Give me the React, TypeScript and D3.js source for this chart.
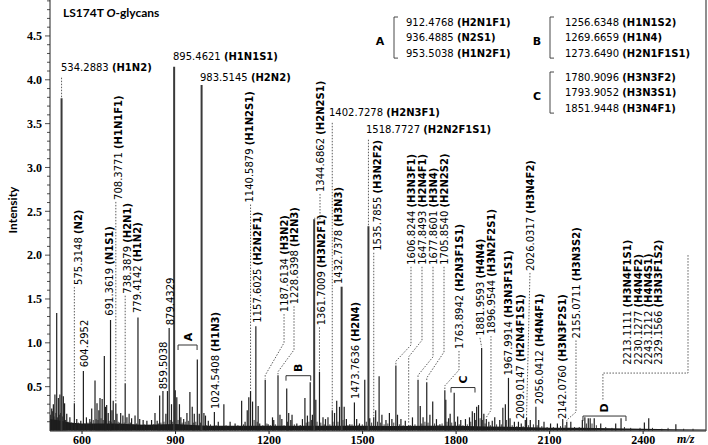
import React from "react";
import * as d3 from "d3";

// ---------- data (m/z, relative intensity) ----------
const X_TICKS = [600, 900, 1200, 1500, 1800, 2100, 2400];
const Y_TICKS = [0.5, 1.0, 1.5, 2.0, 2.5, 3.0, 3.5, 4.0, 4.5];

const PEAKS: [number, number][] = [
  [502.7, 0.25], [508, 0.3], [513, 0.41], [518.7, 1.34], [524, 0.37], [529, 0.41], [534.2883, 3.79], [540, 0.39],
  [544, 0.31], [551, 0.19], [561, 0.15], [575.3148, 0.31], [583, 0.13], [596, 0.11], [604.2952, 0.68], [614, 0.15],
  [625, 0.13], [631, 0.25], [641.6, 0.57], [648, 0.31], [654, 0.23], [657.6, 0.37], [664.5, 0.36], [671.5, 0.85],
  [675, 0.27], [679, 0.29], [684, 0.2], [691.3619, 1.26], [696, 0.23], [700, 0.34], [708.3771, 0.31], [712, 0.19],
  [724, 0.2], [731, 0.17], [738.3879, 0.54], [744, 0.15], [751, 0.19], [759, 0.14], [770, 0.17], [779.4142, 1.29],
  [785, 0.13], [796, 0.12], [808, 0.11], [823, 0.12], [834, 0.2], [841, 0.11], [849, 0.4], [859.5038, 0.45],
  [869, 0.19], [874, 0.45], [879.4329, 1.17], [887, 0.3], [895.4621, 4.15], [899, 0.46], [904, 0.38], [912.4768, 0.3],
  [917, 0.15], [926, 0.13], [936.4885, 0.2], [946, 0.44], [953.5038, 0.27], [960, 0.19], [969.8, 0.81], [976, 0.19],
  [983.5145, 3.94], [991, 0.2], [996, 0.17], [1005, 0.11], [1024.5408, 0.21], [1037, 0.1], [1055, 0.3], [1075, 0.1],
  [1091, 0.08], [1112, 0.34], [1123, 0.1], [1130, 0.23], [1135, 0.38], [1140.5879, 0.45], [1147, 0.33], [1157.6025, 1.19],
  [1165, 0.28], [1170, 0.08], [1187.6134, 0.58], [1197, 0.07], [1211, 0.15], [1215, 0.12], [1228.6398, 0.63], [1235, 0.18],
  [1241, 0.13], [1256.6348, 0.48], [1263, 0.2], [1269.6659, 0.12], [1273.649, 0.18], [1289, 0.08], [1300, 0.06], [1307, 0.13],
  [1315, 0.37], [1323, 0.17], [1332, 0.55], [1339, 0.18], [1344.6862, 2.41], [1350, 0.35], [1361.7009, 0.67], [1373, 0.15],
  [1381, 0.13], [1389, 0.15], [1402.7278, 0.23], [1410, 0.2], [1417, 0.34], [1426, 0.27], [1432.7378, 1.64], [1441, 0.27],
  [1448, 0.13], [1459, 0.07], [1473.7636, 0.32], [1481, 0.13], [1490, 0.08], [1507, 0.58], [1518.7727, 2.33], [1523, 0.14],
  [1535.7855, 0.15], [1542, 0.23], [1553, 0.62], [1562, 0.18], [1575, 0.12], [1586, 0.2], [1594, 0.13], [1606.8244, 0.74],
  [1612, 0.18], [1623, 0.13], [1637, 0.11], [1647.8493, 0.06], [1660, 0.15], [1677.8601, 0.58], [1685, 0.28], [1694, 0.15],
  [1705.854, 0.55], [1716, 0.18], [1725, 0.33], [1737, 0.13], [1748, 0.07], [1763.8942, 0.46], [1767, 0.35], [1776, 0.14],
  [1780.9096, 0.19], [1793.9052, 0.43], [1805, 0.16], [1815, 0.12], [1830, 0.13], [1843, 0.15], [1851.9448, 0.22], [1859, 0.2],
  [1866, 0.27], [1872, 0.29], [1881.9593, 0.94], [1889, 0.19], [1896.9544, 0.13], [1905, 0.1], [1916, 0.11], [1924, 0.15],
  [1940, 0.12], [1950, 0.26], [1958, 0.3], [1967.9914, 0.6], [1973, 0.14], [1987, 0.1], [2000, 0.1], [2009.0147, 0.08],
  [2022, 0.12], [2026.0317, 0.15], [2038, 0.12], [2056.0412, 0.27], [2065, 0.12], [2082, 0.1], [2103, 0.08], [2125, 0.08],
  [2142.076, 0.13], [2155.0711, 0.1], [2168, 0.1], [2205, 0.12], [2213.1111, 0.15], [2224, 0.14], [2230.1277, 0.14],
  [2243.1212, 0.14], [2264, 0.08], [2312, 0.08], [2329.1566, 0.14], [2404, 0.09], [2418, 0.14], [2505, 0.07],
];

const GRASS: [number, number][] = [
  [499, 0.18], [505, 0.22], [510, 0.16], [516, 0.2], [521, 0.15], [527, 0.18], [531, 0.2], [537, 0.16], [547, 0.12],
  [555, 0.1], [566, 0.09], [570, 0.08], [579, 0.07], [588, 0.09], [592, 0.06], [600, 0.07], [609, 0.08], [619, 0.09],
  [628, 0.1], [636, 0.12], [645, 0.13], [651, 0.12], [661, 0.14], [668, 0.12], [687, 0.11], [693, 0.1], [704, 0.12],
  [716, 0.1], [720, 0.09], [728, 0.08], [735, 0.09], [741, 0.07], [748, 0.08], [755, 0.09], [764, 0.07], [775, 0.08],
  [790, 0.06], [801, 0.07], [815, 0.06], [829, 0.07], [845, 0.08], [853, 0.09], [863, 0.1], [883, 0.12], [891, 0.1],
  [908, 0.12], [921, 0.09], [931, 0.1], [941, 0.11], [957, 0.09], [965, 0.1], [980, 0.09], [1000, 0.06], [1012, 0.07],
  [1019, 0.05], [1030, 0.06], [1045, 0.05], [1062, 0.06], [1082, 0.05], [1100, 0.06], [1118, 0.07], [1152, 0.12],
  [1162, 0.1], [1180, 0.06], [1193, 0.08], [1204, 0.06], [1220, 0.07], [1248, 0.06], [1259, 0.1], [1281, 0.07],
  [1295, 0.05], [1319, 0.09], [1328, 0.1], [1336, 0.12], [1354, 0.1], [1366, 0.09], [1377, 0.07], [1395, 0.07],
  [1405, 0.1], [1421, 0.1], [1437, 0.12], [1453, 0.06], [1466, 0.07], [1486, 0.06], [1499, 0.07], [1512, 0.1],
  [1529, 0.09], [1548, 0.1], [1558, 0.09], [1569, 0.07], [1581, 0.08], [1600, 0.09], [1618, 0.07], [1630, 0.06],
  [1653, 0.06], [1668, 0.07], [1690, 0.08], [1700, 0.1], [1710, 0.09], [1731, 0.08], [1742, 0.06], [1755, 0.08],
  [1771, 0.1], [1786, 0.09], [1798, 0.1], [1810, 0.07], [1822, 0.06], [1836, 0.07], [1847, 0.1], [1862, 0.12],
  [1877, 0.14], [1885, 0.12], [1893, 0.08], [1910, 0.06], [1930, 0.07], [1945, 0.07], [1962, 0.12], [1980, 0.06],
  [1995, 0.05], [2015, 0.05], [2032, 0.06], [2048, 0.07], [2060, 0.06], [2075, 0.05], [2092, 0.04], [2112, 0.04],
  [2135, 0.05], [2150, 0.06], [2180, 0.04], [2195, 0.04], [2218, 0.08], [2236, 0.08], [2250, 0.06], [2280, 0.04],
  [2300, 0.03], [2340, 0.04], [2360, 0.03], [2390, 0.03], [2430, 0.03], [2460, 0.02], [2480, 0.03], [2530, 0.02], [2560, 0.02],
];

const NOISE: [number, number][] = [
  [497.2, 0.13], [520, 0.12], [560, 0.09], [600, 0.08], [700, 0.08], [800, 0.065], [900, 0.075], [1000, 0.055],
  [1100, 0.055], [1200, 0.055], [1300, 0.055], [1400, 0.055], [1500, 0.055], [1600, 0.05], [1700, 0.055], [1800, 0.055],
  [1900, 0.045], [2000, 0.04], [2100, 0.03], [2200, 0.03], [2300, 0.025], [2400, 0.02], [2500, 0.015], [2601.7, 0.01],
];

// horizontal labels above the tallest peaks
const TOP_LABELS = [
  { mass: "534.2883", comp: "H1N2", at: [532.5, 4.1], dashTo: 4.04 },
  { mass: "895.4621", comp: "H1N1S1", at: [891.8, 4.226] },
  { mass: "983.5145", comp: "H2N2", at: [978.4, 3.99] },
  { mass: "1402.7278", comp: "H2N3F1", at: [1392.3, 3.59], dashTo: 3.52 },
  { mass: "1518.7727", comp: "H2N2F1S1", at: [1510.9, 3.39], dashTo: 3.32 },
];

// vertical labels: at = [m/z, intensity] of the label foot
type RL = { mass: string; comp: string; at: [number, number]; via?: [number, number][]; mode?: string };
const ROT_LABELS: RL[] = [
  { mass: "575.3148", comp: "N2", at: [587, 1.66] },
  { mass: "604.2952", comp: "", at: [606.3, 0.72] },
  { mass: "691.3619", comp: "N1S1", at: [686.5, 1.31] },
  { mass: "708.3771", comp: "H1N1F1", at: [715.3, 2.63] },
  { mass: "738.3879", comp: "H2N1", at: [744.2, 1.56] },
  { mass: "779.4142", comp: "H1N2", at: [776.3, 1.34] },
  { mass: "859.5038", comp: "", at: [859.7, 0.47] },
  { mass: "879.4329", comp: "", at: [882.2, 1.2] },
  { mass: "1024.5408", comp: "H1N3", at: [1026.5, 0.245] },
  { mass: "1140.5879", comp: "H1N2S1", at: [1135.6, 2.6] },
  { mass: "1157.6025", comp: "H2N2F1", at: [1161.3, 1.23] },
  { mass: "1187.6134", comp: "H3N2", at: [1248, 1.35], via: [[1248, 1.0], [1187.6134, 0.63]] },
  { mass: "1228.6398", comp: "H2N3", at: [1280, 1.44], via: [[1280, 0.92], [1228.6398, 0.67]] },
  { mass: "1344.6862", comp: "H2N2S1", at: [1363.4, 2.72], via: [[1363.4, 2.41]] },
  { mass: "1361.7009", comp: "H3N2F1", at: [1366.6, 1.2] },
  { mass: "1432.7378", comp: "H3N3", at: [1421, 1.67], mode: "direct" },
  { mass: "1473.7636", comp: "H2N4", at: [1475.6, 0.36] },
  { mass: "1535.7855", comp: "H3N2F2", at: [1546.2, 2.05] },
  { mass: "1606.8244", comp: "H3N3F1", at: [1655.3, 1.89], via: [[1655.3, 0.975], [1606.8244, 0.79]] },
  { mass: "1647.8493", comp: "H2N4F1", at: [1690.6, 1.89], via: [[1690.6, 1.03], [1647.8493, 0.84]] },
  { mass: "1677.8601", comp: "H3N4", at: [1725.9, 1.89], via: [[1725.9, 0.84], [1677.8601, 0.63]] },
  { mass: "1705.8540", comp: "H2N2S2", at: [1761.2, 1.89], via: [[1761.2, 0.895], [1705.854, 0.6]] },
  { mass: "1763.8942", comp: "H2N3F1S1", at: [1809.3, 0.93], via: [[1809.3, 0.69], [1763.8942, 0.51]] },
  { mass: "1881.9593", comp: "H4N4", at: [1876.6, 1.08], mode: "direct" },
  { mass: "1896.9544", comp: "H3N2F2S1", at: [1911.9, 1.1], via: [[1911.9, 0.23], [1896.9544, 0.15]] },
  { mass: "1967.9914", comp: "H3N3F1S1", at: [1966.5, 0.63] },
  { mass: "2009.0147", comp: "H2N4F1S1", at: [2005, 0.13] },
  { mass: "2026.0317", comp: "H3N4F2", at: [2037, 1.82], mode: "direct" },
  { mass: "2056.0412", comp: "H4N4F1", at: [2066, 0.3] },
  { mass: "2142.0760", comp: "H3N3F2S1", at: [2139.7, 0.13] },
  { mass: "2155.0711", comp: "H3N3S2", at: [2184.6, 1.05], via: [[2184.6, 0.21], [2155.0711, 0.12]] },
  { mass: "2213.1111", comp: "H3N4F1S1", at: [2348.2, 0.75], mode: "none" },
  { mass: "2230.1277", comp: "H4N4F2", at: [2383.5, 0.75], mode: "none" },
  { mass: "2243.1212", comp: "H4N4S1", at: [2415.6, 0.75], mode: "none" },
  { mass: "2329.1566", comp: "H3N3F1S2", at: [2447.7, 0.75], mode: "none" },
];

const D_CONNECTOR: [number, number][] = [[2544, 2.0], [2544, 0.655], [2271, 0.655], [2271, 0.35]];

const BRACKETS = [
  { name: "A", from: 908, to: 969, level: 0.975 },
  { name: "B", from: 1254.3, to: 1333.6, level: 0.625 },
  { name: "C", from: 1783.6, to: 1860.6, level: 0.49 },
  { name: "D", from: 2207, to: 2345, level: 0.165 },
];

const GROUP_A = [["912.4768", "H2N1F1"], ["936.4885", "N2S1"], ["953.5038", "H1N2F1"]];
const GROUP_B = [["1256.6348", "H1N1S2"], ["1269.6659", "H1N4"], ["1273.6490", "H2N1F1S1"]];
const GROUP_C = [["1780.9096", "H3N3F2"], ["1793.9052", "H3N3S1"], ["1851.9448", "H3N4F1"]];

// ---------- scales ----------
const x = d3.scaleLinear().domain([497.2, 2601.7]).range([50, 706]);
const y = d3.scaleLinear().domain([0, 4.91]).range([430.5, 0]);

const LBL = "DejaVu Sans";
const SERIF = "Liberation Serif";
const TITLE = "Lato";

function peakI(mz: number) {
  let best = PEAKS[0];
  for (const p of PEAKS) if (Math.abs(p[0] - mz) < Math.abs(best[0] - mz)) best = p;
  return best[1];
}

const line = d3.line<[number, number]>();

function Label({ mass, comp }: { mass: string; comp: string }) {
  return (
    <>
      {mass}
      {comp ? " " : ""}
      {comp ? <tspan fontWeight="bold">({comp})</tspan> : null}
    </>
  );
}

function Group({ letter, items, lx, bx, tx, y0 }: { letter: string; items: string[][]; lx: number; bx: number; tx: number; y0: number }) {
  const step = 15.3;
  return (
    <g>
      <text x={lx} y={y0 + step + 4} fontFamily={LBL} fontSize={11} fontWeight="bold" textAnchor="middle">{letter}</text>
      <path d={`M${bx + 4},${y0 - 9} H${bx} V${y0 + 2 * step + 1.5} H${bx + 4}`} fill="none" stroke="#333" strokeWidth={0.9} />
      {items.map((it, i) => (
        <text key={i} x={tx} y={y0 + i * step} fontFamily={LBL} fontSize={10}>
          <Label mass={it[0]} comp={it[1]} />
        </text>
      ))}
    </g>
  );
}

export default function App() {
  const yMinor = d3.range(1, 50).map((i) => i / 10);
  const area = d3.area<[number, number]>().x((d) => x(d[0])).y0(y(0)).y1((d) => y(d[1]));

  return (
    <div style={{ position: "absolute", left: 0, top: 0 }}>
      <svg width={708} height={445} style={{ display: "block", background: "#fff" }}>
        {/* baseline noise */}
        <path d={area(NOISE) || ""} fill="#1a1a1a" />
        {GRASS.map((p, i) => (
          <line key={"g" + i} x1={x(p[0])} x2={x(p[0])} y1={y(0)} y2={y(p[1])} stroke="#222" strokeWidth={0.9} />
        ))}
        {PEAKS.map((p, i) => (
          <line key={"p" + i} x1={x(p[0])} x2={x(p[0])} y1={y(0)} y2={y(p[1])}
            stroke={p[1] > 1.5 ? "#3a3a3a" : "#1e1e1e"} strokeWidth={p[1] > 1.5 ? 2 : 1.2} />
        ))}

        {/* axes */}
        <line x1={50} x2={50} y1={0} y2={431} stroke="#222" strokeWidth={1} />
        <line x1={50} x2={706} y1={431} y2={431} stroke="#222" strokeWidth={1} />
        <line x1={706} x2={706} y1={0} y2={431} stroke="#444" strokeWidth={1.2} />
        {yMinor.map((v) => (
          <line key={"ym" + v} x1={Math.abs((v * 10) % 5) < 0.01 ? 45 : 47} x2={50} y1={y(v)} y2={y(v)} stroke="#222" strokeWidth={0.8} />
        ))}
        {Y_TICKS.map((v) => (
          <text key={"yt" + v} x={42} y={y(v)} dy="0.35em" textAnchor="end" fontFamily={SERIF} fontWeight="bold" fontSize={12}>
            {v.toFixed(1)}
          </text>
        ))}
        {X_TICKS.map((v) => (
          <g key={"xt" + v}>
            <line x1={x(v)} x2={x(v)} y1={431} y2={434} stroke="#222" />
            <text x={x(v)} y={443.5} textAnchor="middle" fontFamily={SERIF} fontWeight="bold" fontSize={12}>{v}</text>
          </g>
        ))}
        <text x={677} y={443} fontFamily={SERIF} fontWeight="bold" fontStyle="italic" fontSize={12}>m/z</text>
        <text transform="translate(17,210) rotate(-90)" textAnchor="middle" fontFamily={TITLE} fontWeight="bold" fontSize={12}>Intensity</text>
        <text x={63} y={17} fontFamily={TITLE} fontWeight="bold" fontSize={12}>
          LS174T <tspan fontStyle="italic">O</tspan>-glycans
        </text>

        {/* horizontal labels */}
        {TOP_LABELS.map((L, i) => {
          const pm = parseFloat(L.mass);
          return (
            <g key={"tl" + i}>
              {L.dashTo !== undefined && (
                <line x1={x(pm)} x2={x(pm)} y1={y(peakI(pm)) - 1} y2={y(L.dashTo)} stroke="#333" strokeWidth={0.8} strokeDasharray="1.5,1.5" />
              )}
              <text x={x(L.at[0])} y={y(L.at[1])} fontFamily={LBL} fontSize={10}>
                <Label mass={L.mass} comp={L.comp} />
              </text>
            </g>
          );
        })}

        {/* vertical labels */}
        {ROT_LABELS.map((L, i) => {
          const pm = parseFloat(L.mass);
          const lx = x(L.at[0]);
          const ly = y(L.at[1]);
          const px = x(pm);
          const py = y(peakI(pm));
          let d: string | null = null;
          if (L.mode !== "none" && py - ly > 6) {
            let pts: [number, number][];
            if (L.via) pts = [[lx, ly + 2], ...L.via.map((v) => [x(v[0]), y(v[1])] as [number, number]), [px, py - 1]];
            else if (L.mode === "direct") pts = [[lx, ly + 2], [px, py - 1]];
            else pts = [[px, ly + 2], [px, py - 1]];
            d = line(pts);
          }
          return (
            <g key={"rl" + i}>
              {d && <path d={d} fill="none" stroke="#333" strokeWidth={0.8} strokeDasharray="1.5,1.5" />}
              <text transform={`translate(${lx},${ly}) rotate(-90)`} dy="0.36em" fontFamily={LBL} fontSize={10}>
                <Label mass={L.mass} comp={L.comp} />
              </text>
            </g>
          );
        })}
        <path d={line(D_CONNECTOR.map((p) => [x(p[0]), y(p[1])] as [number, number])) || ""} fill="none" stroke="#333" strokeWidth={0.8} strokeDasharray="1.5,1.5" />

        {/* brackets */}
        {BRACKETS.map((b) => {
          const x0 = x(b.from), x1 = x(b.to), yy = y(b.level);
          return (
            <g key={"b" + b.name}>
              <path d={`M${x0},${yy + 5} V${yy} H${x1} V${yy + 5}`} fill="none" stroke="#333" strokeWidth={1} />
              <text transform={`translate(${(x0 + x1) / 2},${yy - 8}) rotate(-90)`} dy="0.36em" textAnchor="middle"
                fontFamily={LBL} fontWeight="bold" fontSize={11}>{b.name}</text>
            </g>
          );
        })}

        {/* groups legend */}
        <Group letter="A" items={GROUP_A} lx={380} bx={394} tx={406} y0={26} />
        <Group letter="B" items={GROUP_B} lx={537} bx={550} tx={565} y0={26} />
        <Group letter="C" items={GROUP_C} lx={537} bx={550} tx={565} y0={81} />
      </svg>
    </div>
  );
}
